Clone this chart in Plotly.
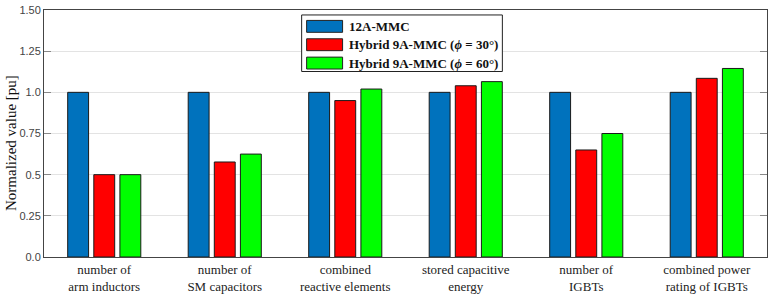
import plotly.graph_objects as go

categories = ["number of<br>arm inductors", "number of<br>SM capacitors", "combined<br>reactive elements",
              "stored capacitive<br>energy", "number of<br>IGBTs", "combined power<br>rating of IGBTs"]
series_names = ["12A-MMC", "Hybrid 9A-MMC (<i>ϕ</i> = 30°)", "Hybrid 9A-MMC (<i>ϕ</i> = 60°)"]
mmc12 = [1.0, 1.0, 1.0, 1.0, 1.0, 1.0]
hyb30 = [0.5, 0.577, 0.95, 1.04, 0.65, 1.085]
hyb60 = [0.5, 0.625, 1.02, 1.065, 0.75, 1.145]
tick_vals = [0, 0.25, 0.5, 0.75, 1.0, 1.25, 1.5]
tick_text = ["0.0", "0.25", "0.5", "0.75", "1.0", "1.25", "1.50"]
colors = ["#0072BD", "#FF0000", "#00FF00"]
y_title = "Normalized value [pu]"

SERIF = "Liberation Serif"
SANS = "Liberation Sans"

W, H = 772, 298
ML, MR, MT, MB = 44, 4, 8, 41
PW, PH = W - ML - MR, H - MT - MB

def px(x):
    return (x - ML) / PW

def py(y):
    return (H - MB - y) / PH

fig = go.Figure()
for name, vals, col in zip(series_names, [mmc12, hyb30, hyb60], colors):
    fig.add_trace(go.Bar(x=categories, y=vals, name=name, showlegend=False,
                         marker=dict(color=col, line=dict(color="#1a1a1a", width=1))))

shapes = [dict(type="rect", xref="paper", yref="paper",
               x0=px(302), x1=px(503), y0=py(70), y1=py(13),
               line=dict(color="#222", width=1), fillcolor="white", layer="above")]
annotations = []
for i, (name, col) in enumerate(zip(series_names, colors)):
    cy = 24.5 + i * 18.5
    shapes.append(dict(type="rect", xref="paper", yref="paper",
                       x0=px(307), x1=px(343), y0=py(cy + 6), y1=py(cy - 6),
                       line=dict(color="#222", width=1), fillcolor=col, layer="above"))
    annotations.append(dict(xref="paper", yref="paper", x=px(347), y=py(cy),
                            xanchor="left", yanchor="middle", showarrow=False,
                            text="<b>" + name + "</b>",
                            font=dict(family=SERIF, size=13, color="#111")))
annotations.append(dict(xref="paper", yref="paper", x=px(11), y=py(142),
                        xanchor="center", yanchor="middle", showarrow=False,
                        textangle=-90, text=y_title,
                        font=dict(family=SERIF, size=15, color="#111")))

fig.update_layout(
    width=W, height=H,
    margin=dict(l=ML, r=MR, t=MT, b=MB),
    paper_bgcolor="white", plot_bgcolor="white",
    barmode="group", bargap=0.35, bargroupgap=0.2,
    font=dict(family=SERIF, color="#111", size=13),
    showlegend=False,
    shapes=shapes, annotations=annotations,
    xaxis=dict(showline=True, linecolor="#444", linewidth=1, mirror=True,
               tickfont=dict(family=SERIF, size=13, color="#222"),
               ticks="", showgrid=False),
    yaxis=dict(range=[0, 1.5], tickvals=tick_vals, ticktext=tick_text,
               showline=True, linecolor="#444", linewidth=1, mirror="ticks",
               ticks="inside", ticklen=7, tickcolor="#888",
               showgrid=True, gridcolor="#e3e3e3", gridwidth=1,
               zeroline=False,
               tickfont=dict(family=SANS, size=11, color="#444")),
)
fig.write_html("out.html")
